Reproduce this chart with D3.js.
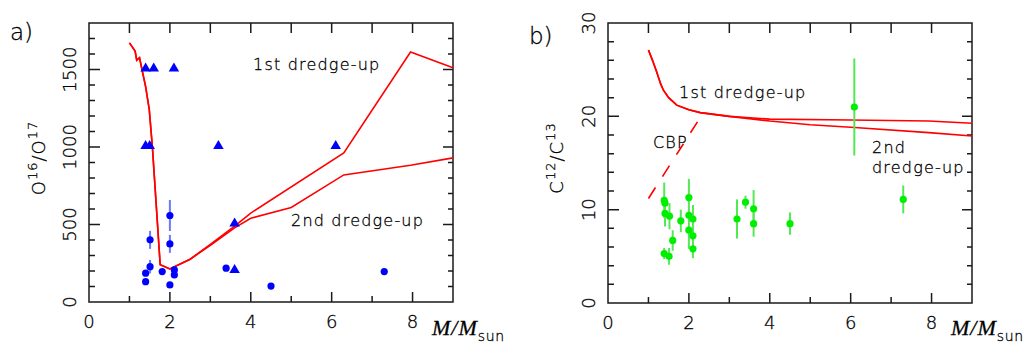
<!DOCTYPE html>
<html lang="en">
<head>
<meta charset="UTF-8">
<title>O16/O17 and C12/C13 vs mass</title>
<script src="https://cdn.jsdelivr.net/npm/d3@7"></script>
<style>
  body { margin: 0; background: #fff; }
  svg text { font-family: "DejaVu Sans", sans-serif; font-weight: 200; fill: #000; stroke: #000; stroke-width: 0.3; }
</style>
</head>
<body>
<svg id="svg"></svg>
<script>
// ---- panel a) O16/O17 ----
// model track shared by both curves at low mass
const oxyLowTrack = [[1.0,1672],[1.14,1619],[1.18,1560],[1.25,1576],[1.30,1512],[1.40,1390],
                     [1.49,1242],[1.57,990],[1.76,240],[2.0,213],[2.5,276]];
const oxyFirstHigh = [[3.0,372],[3.6,490],[4.0,574],[6.3,962],[7.95,1613],[9.0,1512]];
const oxySecondHigh = [[3.0,366],[3.6,478],[4.0,540],[5.0,610],[6.3,820],[7.95,882],[9.0,930]];
// observed stars: [mass, ratio, error]
const oxyStars = [[1.40,131,0],[1.40,186,0],[1.51,228,43],[1.51,401,58],[1.81,196,18],
                  [2.0,558,100],[2.0,375,58],[2.0,110,0],[2.11,207,12],[2.11,175,12],
                  [3.39,218,0],[4.50,103,0],[7.30,196,0]];
// limits (triangles): [mass, ratio]
const oxyLimits = [[1.4,1500],[1.6,1500],[2.1,1500],[1.4,1000],[1.5,1000],[3.2,1000],
                   [6.1,1000],[3.6,500],[3.6,200]];
const oxyMajorTicks = [0,500,1000,1500];

// ---- panel b) C12/C13 ----
const carbLowTrack = [[1.0,27.1],[1.1,26.0],[1.2,24.8],[1.3,23.5],[1.37,22.8],[1.5,22.0],
                      [1.7,21.2],[2.0,20.7],[2.28,20.4],[3.0,20.0]];
const carbFirstHigh = [[4.0,19.7],[6.0,19.6],[7.93,19.5],[9.0,19.26]];
const carbSecondHigh = [[4.0,19.5],[5.0,19.1],[6.1,18.8],[7.93,18.25],[9.0,17.9]];
const carbCBP = [[1.0,11.2],[2.27,19.8]];
// [mass, ratio, error]
const carbStars = [[1.39,11.0,1.9],[1.41,10.7,0],[1.41,9.6,1.4],[1.52,9.3,1.4],[1.60,6.7,1.1],
                   [1.39,5.3,0.6],[1.51,5.0,0.9],[1.80,8.8,1.2],[2.00,11.3,2.0],[2.00,9.4,0],
                   [2.00,7.8,2.0],[2.10,9.0,1.5],[2.10,7.2,0.5],[2.10,5.8,1.0],[3.19,9.0,2.1],
                   [3.40,10.8,0.7],[3.60,10.1,2.0],[3.60,8.5,1.4],[4.50,8.5,1.2],[6.09,21.0,5.2],
                   [7.30,11.1,1.5]];
const carbMajorTicks = [0,10,20,30];

const massMajor = [0,2,4,6,8];
const massMinor = [1,3,5,7,9];

const svg = d3.select("#svg").attr("width", 1023).attr("height", 343);

// frame plus inward ticks as one path, positions from the scales
function framePath(x, y, p) {
    const path = d3.path();
    const [x0, x1] = x.range();
    const [y0, y1] = y.range();
    path.rect(x0, y1, x1 - x0, y0 - y1);
    const yMinor = d3.range(0, p.ymax + 0.001, p.yMinor);
    massMajor.concat(massMinor).forEach(v => {
        const len = massMajor.includes(v) ? 10 : 6;
        path.moveTo(x(v), y0); path.lineTo(x(v), y0 - len);
        path.moveTo(x(v), y1); path.lineTo(x(v), y1 + 10);
    });
    yMinor.forEach(v => {
        const major = p.yMajor.includes(v);
        path.moveTo(x0, y(v)); path.lineTo(x0 + (major ? 11 : 6), y(v));
        path.moveTo(x1, y(v)); path.lineTo(x1 - (major ? 10 : 5), y(v));
    });
    return path.toString();
}

function drawPanel(p) {
    const x = d3.scaleLinear().domain([0, 9]).range([p.left, p.left + 364]);
    const y = d3.scaleLinear().domain([0, p.ymax]).range([p.bottom, 23]);
    const g = svg.append("g");

    g.append("path").attr("d", framePath(x, y, p))
        .attr("fill", "none").attr("stroke", "#1a1a1a").attr("stroke-width", 1.5);

    const line = d3.line().x(d => x(d[0])).y(d => y(d[1]));
    p.curves.forEach(c => {
        g.append("path").datum(c.pts).attr("d", line)
            .attr("fill", "none").attr("stroke", "#ff0000")
            .attr("stroke-width", 1.6).attr("stroke-dasharray", c.dash || null);
    });

    g.append("g").selectAll("line").data(p.stars.filter(d => d[2] > 0)).enter().append("line")
        .attr("x1", d => x(d[0])).attr("x2", d => x(d[0]))
        .attr("y1", d => y(d[1] - d[2])).attr("y2", d => y(d[1] + d[2]))
        .attr("stroke", p.errColor).attr("stroke-width", 2);
    g.append("g").selectAll("circle").data(p.stars).enter().append("circle")
        .attr("cx", d => x(d[0])).attr("cy", d => y(d[1])).attr("r", 3.6)
        .attr("fill", p.dotColor);

    if (p.limits) {
        g.append("g").selectAll("path").data(p.limits).enter().append("path")
            .attr("d", d3.symbol(d3.symbolTriangle, 48))
            .attr("transform", d => `translate(${x(d[0])},${y(d[1]) - 1})`)
            .attr("fill", "#0000ff");
    }

    // tick labels
    g.append("g").selectAll("text").data(massMajor).enter().append("text")
        .attr("x", d => x(d)).attr("y", p.bottom + 26)
        .attr("text-anchor", "middle").attr("font-size", 18).text(d => d);
    g.append("g").selectAll("text").data(p.yMajor).enter().append("text")
        .attr("text-anchor", "middle").attr("dominant-baseline", "central").attr("font-size", 18)
        .attr("transform", d => `translate(${p.left - 20},${y(d)}) rotate(-90)`)
        .text(d3.format("d"));

    p.labels.forEach(l => {
        g.append("text").attr("x", l[0]).attr("y", l[1]).attr("font-size", 16)
            .attr("letter-spacing", 1.2).text(l[2]);
    });

    // y title with superscripts, rotated
    const t = g.append("text").attr("font-size", 18).attr("letter-spacing", 1)
        .attr("text-anchor", "middle")
        .attr("transform", `translate(${p.titleX},158) rotate(-90)`);
    t.append("tspan").text(p.title[0]);
    t.append("tspan").attr("font-size", 13).attr("dy", -8).text(p.title[1]);
    t.append("tspan").attr("dy", 8).text("/" + p.title[0]);
    t.append("tspan").attr("font-size", 13).attr("dy", -8).text(p.title[2]);

    // panel letter
    g.append("text").attr("x", p.left - 79).attr("y", p.letterY).attr("font-size", 23).text(p.letter);

    // x title M/M_sun
    const m = g.append("text").attr("x", p.left + 343).attr("y", 335).attr("stroke-width", 0);
    m.append("tspan").attr("font-family", "Liberation Serif, serif").attr("font-style", "italic")
        .attr("font-weight", 400).attr("font-size", 22).attr("letter-spacing", 1).text("M/M");
    m.append("tspan").attr("font-size", 14).attr("dy", 6).attr("letter-spacing", 0.6).text("sun");
}

drawPanel({
    left: 89, bottom: 302, ymax: 1800, yMajor: oxyMajorTicks, yMinor: 100,
    curves: [{ pts: oxyLowTrack.concat(oxyFirstHigh) }, { pts: oxyLowTrack.concat(oxySecondHigh) }],
    stars: oxyStars, limits: oxyLimits, dotColor: "#0000ff", errColor: "#6a78ff",
    labels: [[253, 70, "1st dredge-up"], [291, 226, "2nd dredge-up"]],
    title: ["O", "16", "17"], titleX: 45, letter: "a)", letterY: 40
});

drawPanel({
    left: 608, bottom: 303, ymax: 30, yMajor: carbMajorTicks, yMinor: 2,
    curves: [{ pts: carbLowTrack.concat(carbFirstHigh) }, { pts: carbLowTrack.concat(carbSecondHigh) },
             { pts: carbCBP, dash: "13,13" }],
    stars: carbStars, limits: null, dotColor: "#00ee00", errColor: "#55e855",
    labels: [[679, 98, "1st dredge-up"], [653, 148, "CBP"], [872, 153, "2nd"], [872, 173, "dredge-up"]],
    title: ["C", "12", "13"], titleX: 563, letter: "b)", letterY: 44
});
</script>
</body>
</html>
